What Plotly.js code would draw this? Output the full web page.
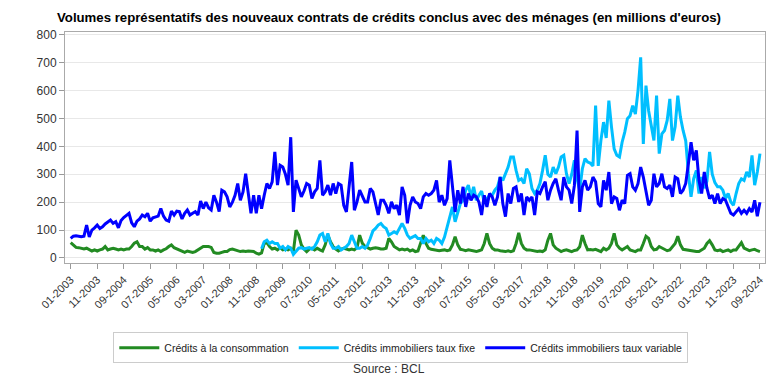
<!DOCTYPE html>
<html>
<head>
<meta charset="utf-8">
<script src="https://cdn.plot.ly/plotly-3.0.1.min.js"></script>
<style>html,body{margin:0;padding:0;background:#fff;}#chart{width:778px;height:384px;}</style>
</head>
<body>
<div id="chart"></div>
<script>
// Month categories 01-2003 .. 09-2024
const months = [];
for (let y = 2003; y <= 2024; y++) {
  for (let mo = 1; mo <= 12; mo++) {
    if (y === 2024 && mo > 9) break;
    months.push((mo < 10 ? '0' : '') + mo + '-' + y);
  }
}
const tickLabels = ["01-2003","11-2003","09-2004","07-2005","05-2006","03-2007","01-2008","11-2008","09-2009","07-2010","05-2011","03-2012","01-2013","11-2013","09-2014","07-2015","05-2016","03-2017","01-2018","11-2018","09-2019","07-2020","05-2021","03-2022","01-2023","11-2023","09-2024"];

const seriesNames = ["Crédits à la consommation", "Crédits immobiliers taux fixe", "Crédits immobiliers taux variable"];

const consommation = [
  55,45,38,37,35,32,35,29,25,29,25,29,
  32,41,29,32,35,32,29,32,29,32,32,41,
  53,58,41,41,32,37,29,29,25,29,23,29,
  33,41,47,37,32,29,25,20,25,23,20,23,
  29,32,41,41,41,38,20,17,17,20,23,23,
  30,32,29,25,23,25,23,25,23,23,17,14,
  18,52,55,41,32,35,29,37,29,32,29,35,
  23,100,82,47,32,23,32,35,29,35,29,25,
  47,82,58,41,32,25,32,35,32,29,32,29,
  37,82,53,41,37,32,35,37,35,32,32,35,
  70,58,41,35,29,32,29,32,25,29,23,25,
  52,82,52,35,31,29,29,26,28,29,26,29,
  47,76,47,31,29,26,29,27,26,23,26,29,
  52,88,52,35,29,29,26,24,23,26,23,26,
  52,90,52,35,29,29,27,26,23,25,23,29,
  64,88,47,35,29,23,27,29,26,23,27,29,
  40,82,52,29,30,29,31,27,23,35,29,35,
  52,88,47,35,29,35,41,29,26,23,29,29,
  52,78,70,41,29,31,41,35,29,26,29,41,
  52,78,47,31,29,29,26,23,23,23,29,35,
  52,62,47,29,26,29,23,26,29,23,29,29,
  40,55,35,29,26,29,31,26,23
];

const tauxFixe = [
  null,null,null,null,null,null,null,null,null,null,null,null,
  null,null,null,null,null,null,null,null,null,null,null,null,
  null,null,null,null,null,null,null,null,null,null,null,null,
  null,null,null,null,null,null,null,null,null,null,null,null,
  null,null,null,null,null,null,null,null,null,null,null,null,
  null,null,null,null,null,null,null,null,null,null,null,null,
  33,58,64,52,58,52,52,35,41,29,41,35,
  13,23,35,37,32,35,37,32,41,58,82,88,
  58,88,52,35,35,41,29,35,41,52,82,58,
  35,35,41,35,47,70,97,106,118,124,112,106,
  82,88,94,88,106,124,106,82,70,76,80,70,
  70,52,70,58,64,52,70,64,52,75,112,148,
  183,130,165,195,207,243,261,219,255,207,225,240,
  200,213,225,225,243,255,290,278,302,326,362,362,
  314,278,284,267,320,302,249,231,243,267,314,368,
  300,290,326,302,326,362,368,302,267,300,350,284,
  243,320,356,344,340,330,546,330,421,487,430,564,
  469,391,368,362,415,451,499,510,546,516,600,719,
  409,618,528,469,421,582,374,445,457,493,570,421,
  470,582,505,457,420,302,219,285,314,231,290,250,
  275,380,300,270,255,255,243,213,231,201,189,231,
  267,284,278,308,290,368,261,308,374
];

const tauxVariable = [
  70,78,80,78,76,78,118,75,100,108,118,106,
  112,122,128,136,124,130,108,134,145,154,160,126,
  112,132,140,154,148,160,132,144,146,150,177,150,
  136,132,168,154,168,166,140,160,172,154,160,166,
  154,204,177,200,180,172,225,200,166,243,237,219,
  183,200,225,267,207,237,302,225,160,225,160,225,
  177,225,267,249,273,380,261,332,326,300,261,433,
  165,279,249,219,240,267,261,213,237,249,350,225,
  237,261,225,267,231,267,261,189,165,249,344,171,
  201,243,220,201,201,249,237,189,154,207,207,189,
  160,201,177,189,154,255,225,124,189,219,201,195,
  177,219,231,225,231,243,278,200,225,189,213,350,
  255,165,243,195,255,183,231,207,225,219,200,154,
  225,183,231,219,189,219,290,195,148,231,195,249,
  255,201,231,154,219,207,219,154,237,231,255,273,
  207,243,267,284,243,207,290,255,243,195,260,457,
  165,255,278,243,255,290,273,195,183,278,243,308,
  195,219,213,171,207,195,296,302,255,243,267,326,
  290,243,189,207,302,255,267,302,255,249,261,219,
  290,284,231,243,267,338,415,350,386,278,231,308,
  250,213,225,195,231,195,213,207,183,160,154,165,
  177,160,171,160,177,165,207,150,200
];

const colors = ["#228B22", "#00BFFF", "#0000FF"];
const font = "Liberation Sans, Arial, sans-serif";

const traces = [consommation, tauxFixe, tauxVariable].map((vals, i) => ({
  x: months,
  y: vals,
  type: 'scatter',
  mode: 'lines',
  name: seriesNames[i],
  line: {color: colors[i], width: 3},
  connectgaps: false
}));

const layout = {
  width: 778,
  height: 384,
  paper_bgcolor: '#ffffff',
  plot_bgcolor: '#ffffff',
  margin: {l: 65, r: 13, t: 32, b: 121},
  font: {family: font, size: 12, color: '#333333'},
  title: {
    text: "<b>Volumes représentatifs des nouveaux contrats de crédits conclus avec des ménages (en millions d'euros)</b>",
    font: {family: font, size: 13.2, color: '#000000'},
    x: 0.5, xref: 'container', xanchor: 'center',
    y: 0.955, yref: 'container', yanchor: 'middle'
  },
  xaxis: {
    type: 'category',
    range: [-2.15, 261.9],
    tickmode: 'array',
    tickvals: tickLabels,
    ticktext: tickLabels,
    tickangle: -45,
    ticks: 'outside',
    ticklen: 5,
    tickcolor: '#999999',
    showgrid: false,
    showline: true,
    linecolor: '#aaaaaa',
    linewidth: 1,
    mirror: true,
    zeroline: false,
    tickfont: {family: font, size: 11, color: '#333333'}
  },
  yaxis: {
    range: [-18, 810],
    tickvals: [0,100,200,300,400,500,600,700,800],
    ticks: 'outside',
    ticklen: 5,
    tickcolor: '#999999',
    showgrid: true,
    gridcolor: '#e8e8e8',
    gridwidth: 1,
    showline: true,
    linecolor: '#aaaaaa',
    linewidth: 1,
    mirror: true,
    zeroline: false,
    tickfont: {family: font, size: 12, color: '#333333'}
  },
  showlegend: true,
  legend: {
    orientation: 'h',
    x: 0.069, xanchor: 'left',
    y: -0.3, yanchor: 'top',
    bordercolor: '#cccccc',
    borderwidth: 1,
    font: {family: font, size: 10.5, color: '#222222'},
    itemwidth: 40
  },
  annotations: [{
    text: 'Source : BCL',
    xref: 'paper', yref: 'paper',
    x: 0.463, y: -0.46,
    xanchor: 'center', yanchor: 'middle',
    showarrow: false,
    font: {family: font, size: 12, color: '#333333'}
  }]
};

Plotly.newPlot('chart', traces, layout, {displayModeBar: false, staticPlot: true});
</script>
</body>
</html>
